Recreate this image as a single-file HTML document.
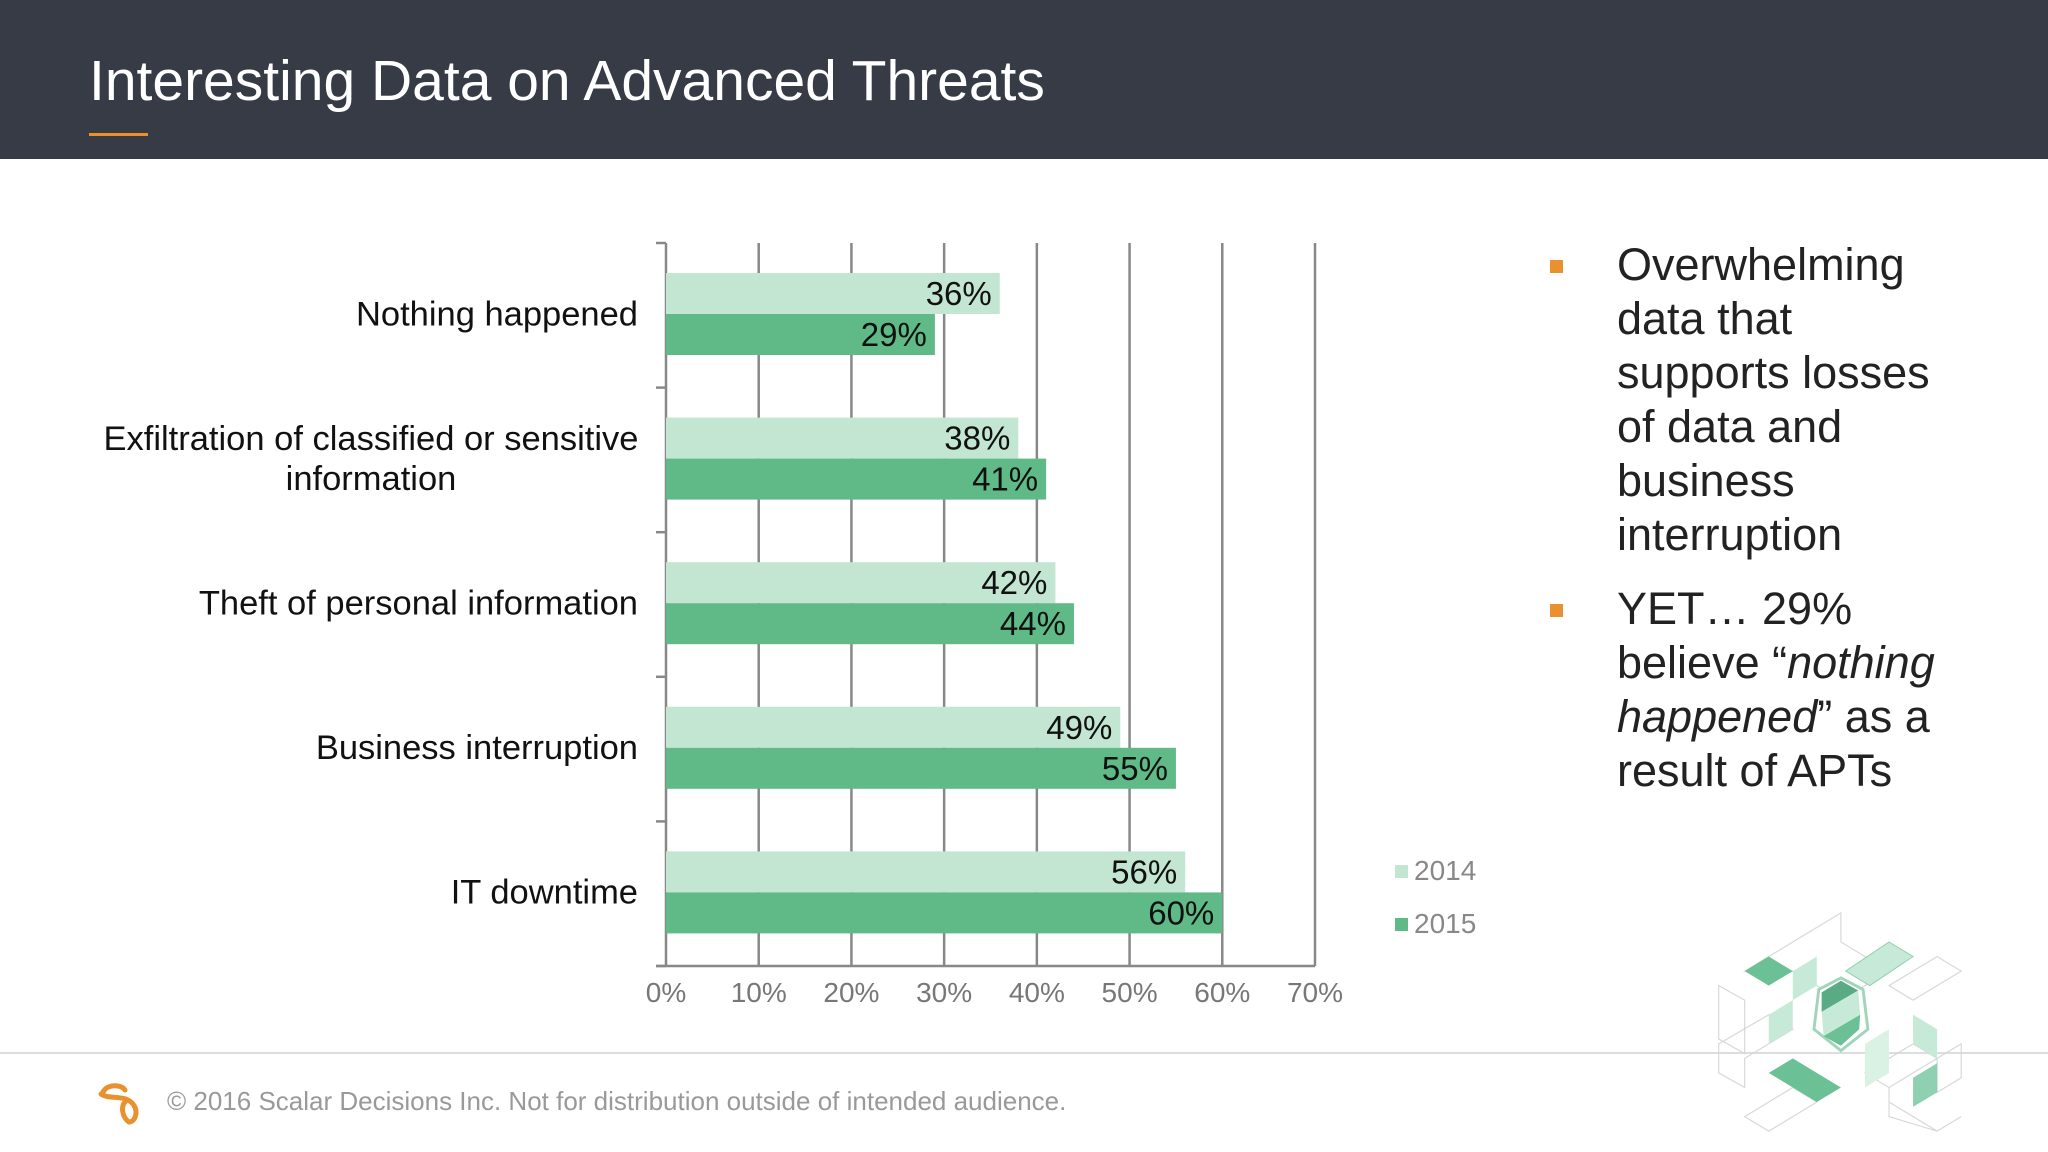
<!DOCTYPE html>
<html><head><meta charset="utf-8">
<style>
html,body{margin:0;padding:0;width:2048px;height:1152px;overflow:hidden;background:#fff;font-family:"Liberation Sans",Arial,sans-serif;}
#header{position:absolute;left:0;top:0;width:2048px;height:159px;background:#363b46;}
#title{position:absolute;left:89px;top:48px;color:#fff;font-size:57px;white-space:nowrap;}
#underline{position:absolute;left:89px;top:133px;width:59px;height:3px;background:#e8912e;}
#bullets{position:absolute;left:1550px;top:238px;width:410px;font-size:45px;line-height:54px;color:#222;}
.bl{position:relative;padding-left:67px;margin-bottom:0;}
.bl .sq{position:absolute;left:0;top:22px;width:13px;height:13px;background:#e8912e;}
#footline{position:absolute;left:0;top:1052px;width:2048px;height:2px;background:#ddd;}
#foottext{position:absolute;left:167px;top:1086px;font-size:26px;color:#999;white-space:nowrap;}
</style></head><body>
<div id="header"></div>
<div id="title">Interesting Data on Advanced Threats</div>
<div id="underline"></div>

<svg id="chart" width="2048" height="1152" style="position:absolute;left:0;top:0"></svg>

<div id="bullets">
<div class="bl"><span class="sq"></span>Overwhelming data that supports losses of data and business interruption</div>
<div class="bl" style="margin-top:20px"><span class="sq"></span>YET… 29% believe “<i>nothing happened</i>” as a result of APTs</div>
</div>

<div id="footline"></div>
<svg style="position:absolute;left:95px;top:1080px" width="50" height="45">
<path d="M8 12 C12 4 26 4 30 10 M6 14 C14 20 30 14 38 24 C44 32 40 42 34 42 C28 38 24 26 32 20" fill="none" stroke="#e8912e" stroke-width="5" stroke-linecap="round"/>
</svg>
<div id="foottext">© 2016 Scalar Decisions Inc. Not for distribution outside of intended audience.</div>

<svg style="position:absolute;left:1711px;top:908px" width="255" height="228" viewBox="55 25 265 235" preserveAspectRatio="none">
<g stroke="#d5d8d6" stroke-width="1.2" fill="none">
<path d="M90 90 L190 30 L190 60 L240 90 L190 120 L140 90 Z"/>
<path d="M63 105 L90 120 L90 175 L63 160 Z"/>
<path d="M63 165 L115 135 L140 150 L90 180 L90 210 L63 195 Z"/>
<path d="M90 240 L140 210 L165 225 L115 255 Z"/>
<path d="M215 195 L265 165 L290 180 L240 210 Z"/>
<path d="M240 225 L290 255 L265 240 Z"/>
<path d="M265 120 L315 90 L290 75 L240 105 Z"/>
<path d="M290 180 L315 165 L315 200 L290 215 Z"/>
<path d="M240 210 L240 240 L290 255 L315 240"/>
</g>
<path d="M90 90 L115 75 L140 90 L115 105 Z" fill="#6cc096"/>
<path d="M140 90 L165 75 L165 105 L140 120 Z" fill="#c7ead8"/>
<path d="M195 90 L240 60 L265 75 L220 105 Z" fill="#c7ead8" stroke="#8fd0b0"/>
<path d="M115 135 L140 120 L140 150 L115 165 Z" fill="#c7ead8"/>
<path d="M115 195 L140 180 L190 210 L165 225 Z" fill="#6cc096"/>
<path d="M215 165 L240 150 L240 195 L215 210 Z" fill="#d9f2e4"/>
<path d="M265 200 L290 185 L290 215 L265 230 Z" fill="#8fd0b0"/>
<path d="M265 135 L290 150 L290 180 L265 165 Z" fill="#c7ead8"/>
<path d="M190 97 L213 109 L218 150 L190 172 L162 150 L167 109 Z" fill="#fff" stroke="#9fd6bb" stroke-width="3"/>
<path d="M170 112 L190 100 L208 110 L170 132 Z" fill="#5aab83"/>
<path d="M170 132 L208 110 L210 135 L172 157 Z" fill="#c7ead8"/>
<path d="M172 157 L210 135 L209 150 L190 167 Z" fill="#6cc096"/>
</svg>

<script>
const categories = ["Nothing happened","Exfiltration of classified or sensitive|information","Theft of personal information","Business interruption","IT downtime"];
const values2014 = [36,38,42,49,56];
const values2015 = [29,41,44,55,60];
const xTicks = [0,10,20,30,40,50,60,70];
const seriesNames = ["2014","2015"];

const svg = document.getElementById('chart');
const NS = 'http://www.w3.org/2000/svg';
const x0 = 666, x1 = 1315, xMax = 70;
const yTop = 243, yBot = 966;
const band = (yBot - yTop) / categories.length;
const xs = v => x0 + (x1 - x0) * v / xMax;
const yb = i => yTop + band * i;
function mk(tag, attrs){const e=document.createElementNS(NS,tag);for(const k in attrs)e.setAttribute(k,attrs[k]);svg.appendChild(e);return e;}

xTicks.forEach((t,i)=>{
  if(i>0){
    const g = mk('line',{x1:xs(t),x2:xs(t),y1:yTop,y2:yBot,stroke:'#888','stroke-width':2.5});
    
    
  }
  const tl = mk('text',{x:xs(t),y:yBot+36,'text-anchor':'middle','font-size':28,fill:'#777'});
  tl.textContent = t+'%';
  
  
});
const ya = mk('line',{x1:x0,x2:x0,y1:yTop,y2:yBot,stroke:'#888','stroke-width':2.5});


const xa = mk('line',{x1:x0-10,x2:x1,y1:yBot,y2:yBot,stroke:'#888','stroke-width':2.5});


for(let i=0;i<=categories.length;i++){
  const tk = mk('line',{x1:x0-10,x2:x0,y1:yb(i),y2:yb(i),stroke:'#888','stroke-width':2.5});
  
  
}
const barH = 41, off = 30;
categories.forEach((c,i)=>{
  const yy = yb(i)+off;
  const b1 = mk('rect',{x:x0,y:yy,width:xs(values2014[i])-x0,height:barH,fill:'#c3e6d2'});
  
  
  const b2 = mk('rect',{x:x0,y:yy+barH,width:xs(values2015[i])-x0,height:barH,fill:'#5fba88'});
  
  
  const v1 = mk('text',{x:xs(values2014[i])-8,y:yy+32,'text-anchor':'end','font-size':33,fill:'#111'});
  v1.textContent = values2014[i]+'%';
  
  
  const v2 = mk('text',{x:xs(values2015[i])-8,y:yy+barH+32,'text-anchor':'end','font-size':33,fill:'#111'});
  v2.textContent = values2015[i]+'%';
  
  
  const lines = c.split('|');
  const cy = yb(i)+band/2 + 10;
  lines.forEach((ln,j)=>{
    const t = mk('text',{'font-size':34.5,fill:'#111','text-anchor':lines.length>1?'middle':'end'});
    t.setAttribute('x', lines.length>1 ? 371 : 638);
    t.setAttribute('y', cy + (j - (lines.length-1)/2)*40);
    t.textContent = ln;
    
    
  });
});
const legColors = ['#c3e6d2','#5fba88'];
seriesNames.forEach((s,i)=>{
  const y = 880 + i*53;
  const r = mk('rect',{x:1395,y:y-15,width:13,height:13,fill:legColors[i]});
  
  
  const t = mk('text',{x:1414,y:y,'font-size':28,fill:'#888'});
  t.textContent = s;
  
  
});
</script>
</body></html>
